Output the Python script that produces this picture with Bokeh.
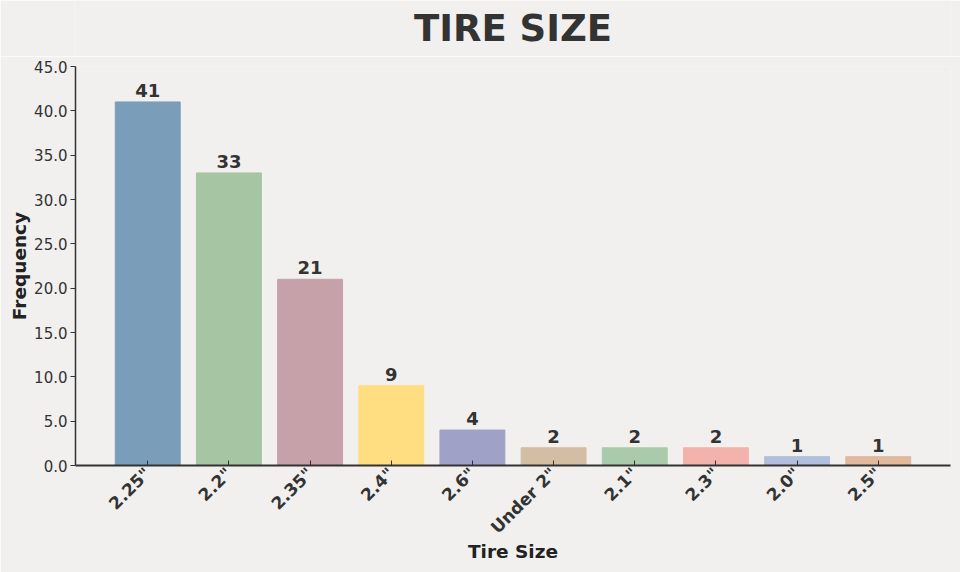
import math
from bokeh.plotting import figure
from bokeh.layouts import column
from bokeh.models import Range1d, FixedTicker, ColumnDataSource
from bokeh.core.properties import value
from bokeh.embed import file_html
from bokeh.resources import INLINE

title_text = "TIRE SIZE"
categories = ['2.25"', '2.2"', '2.35"', '2.4"', '2.6"', 'Under 2"', '2.1"', '2.3"', '2.0"', '2.5"']
counts = [41, 33, 21, 9, 4, 2, 2, 2, 1, 1]
colors = ["#7a9db9", "#a6c5a2", "#c6a1aa", "#fede80", "#9fa2c6",
          "#d3bea4", "#a9cbab", "#f3b3ac", "#b1bfdc", "#e1b99d"]
y_ticks = [0, 5, 10, 15, 20, 25, 30, 35, 40, 45]

FONT = "DejaVu Sans"
BG = "#f1f0ee"
INK = "#333333"

W = 960
TITLE_H = 56
MAIN_H = 572 - TITLE_H
LEFT, RIGHT = 75, 10
X0, X1 = -0.89, 9.89

# ---- title strip (frame aligned with the chart's frame) -----------------
t = figure(width=W, height=TITLE_H, output_backend="svg", toolbar_location=None,
           title=None, x_range=Range1d(X0, X1), y_range=Range1d(0, TITLE_H),
           x_axis_type=None, y_axis_type=None,
           min_border_left=LEFT, min_border_right=RIGHT, min_border_top=0, min_border_bottom=0)
t.background_fill_color = BG
t.border_fill_color = BG
t.outline_line_color = None
t.grid.visible = False
t.text(x=[(X0 + X1) / 2], y=[TITLE_H - 28], text=[title_text], text_align="center",
       text_baseline="middle", text_font=value(FONT), text_font_style="bold",
       text_font_size="37px", text_color=INK)

# ---- main chart --------------------------------------------------------
xs = list(range(len(categories)))
src = ColumnDataSource(dict(x=xs, top=counts, color=colors,
                            label=[str(c) for c in counts]))

p = figure(width=W, height=MAIN_H, output_backend="svg", toolbar_location=None,
           title=None, x_range=Range1d(X0, X1), y_range=Range1d(0, 45),
           min_border_left=LEFT, min_border_right=RIGHT, min_border_top=66 - TITLE_H,
           min_border_bottom=107)
p.background_fill_color = BG
p.border_fill_color = BG
p.outline_line_color = None
p.grid.visible = False

p.vbar(x="x", top="top", width=0.8, bottom=0, color="color", source=src)
p.text(x="x", y="top", text="label", source=src, text_align="center",
       text_baseline="bottom", y_offset=-5, text_font=value(FONT),
       text_font_style="bold", text_font_size="18px", text_color=INK)

# x axis
xa = p.xaxis[0]
xa.ticker = FixedTicker(ticks=xs)
xa.major_label_overrides = {i: c for i, c in enumerate(categories)}
xa.major_label_orientation = math.pi / 4
xa.major_label_text_font = FONT
xa.major_label_text_font_style = "bold"
xa.major_label_text_font_size = "17px"
xa.major_label_text_color = INK
xa.major_label_standoff = 5
xa.major_tick_in = 5
xa.major_tick_out = 0
xa.minor_tick_line_color = None
xa.axis_line_width = 2
xa.axis_line_color = INK
xa.major_tick_line_color = INK
xa.axis_label = "Tire Size"
xa.axis_label_text_font = FONT
xa.axis_label_text_font_style = "bold"
xa.axis_label_text_font_size = "18.5px"
xa.axis_label_text_color = "#222222"
xa.axis_label_standoff = -6

ya = p.yaxis[0]
ya.ticker = FixedTicker(ticks=y_ticks)
ya.major_label_overrides = {v: f"{v:.1f}" for v in y_ticks}
ya.major_label_text_font = FONT
ya.major_label_text_font_size = "15px"
ya.major_label_text_color = INK
ya.major_label_standoff = 3
ya.major_tick_in = 0
ya.major_tick_out = 5
ya.minor_tick_line_color = None
ya.axis_line_width = 1.5
ya.axis_line_color = INK
ya.major_tick_line_color = INK
ya.axis_label = "Frequency"
ya.axis_label_text_font = FONT
ya.axis_label_text_font_style = "bold"
ya.axis_label_text_font_size = "18.5px"
ya.axis_label_text_color = "#222222"
ya.axis_label_standoff = 1

layout = column(t, p, spacing=0)
open("out.html", "w").write(file_html(layout, INLINE))
